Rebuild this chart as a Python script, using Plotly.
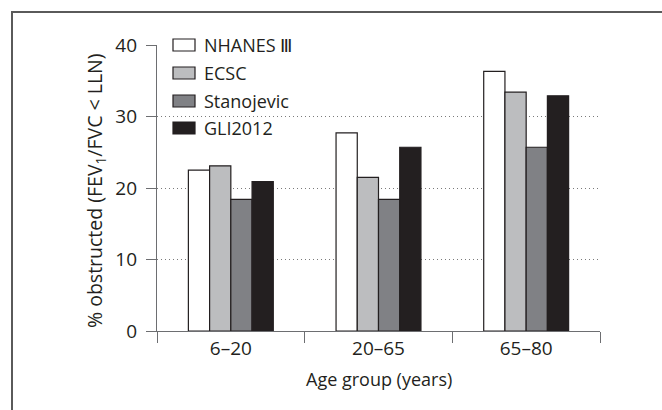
import plotly.graph_objects as go

categories = ["6–20", "20–65", "65–80"]
series_names = ["NHANES Ⅲ", "ECSC", "Stanojevic", "GLI2012"]
nhanes = [22.5, 27.7, 36.3]
ecsc = [23.1, 21.5, 33.4]
stanojevic = [18.4, 18.4, 25.7]
gli2012 = [20.9, 25.7, 32.9]
series_values = [nhanes, ecsc, stanojevic, gli2012]
colors = ["#ffffff", "#bcbdbf", "#808185", "#231f20"]
y_ticks = [0, 10, 20, 30, 40]

FONT = "Open Sans"
FS = 18
TXT = "#231f20"
AX = "#6d6e71"

W, H = 662, 410
L, R, T, B = 157, 62, 45, 79
PW, PH = W - L - R, H - T - B


def px_x(x):
    return (x - L) / PW


def px_y(y):
    return (H - B - y) / PH


fig = go.Figure()
for name, vals, col in zip(series_names, series_values, colors):
    fig.add_trace(go.Bar(
        x=categories, y=vals, name=name,
        marker=dict(color=col, line=dict(color="#231f20", width=1.2)),
        showlegend=False,
    ))

shapes = []
annotations = []

# outer frame
shapes.append(dict(type="rect", xref="paper", yref="paper",
                   x0=px_x(12), x1=px_x(700), y0=px_y(12), y1=px_y(440),
                   line=dict(color="#5a5a5a", width=2), fillcolor="rgba(0,0,0,0)",
                   layer="above"))

# legend background (hides gridlines)
shapes.append(dict(type="rect", xref="paper", yref="paper",
                   x0=px_x(166), x1=px_x(303), y0=px_y(34), y1=px_y(140),
                   line=dict(width=0), fillcolor="white", layer="between"))

row_y = [45, 73, 101, 128]
for name, col, ry in zip(series_names, colors, row_y):
    shapes.append(dict(type="rect", xref="paper", yref="paper",
                       x0=px_x(173), x1=px_x(195), y0=px_y(ry - 6), y1=px_y(ry + 6),
                       line=dict(color="#231f20", width=1.2), fillcolor=col,
                       layer="above"))
    annotations.append(dict(xref="paper", yref="paper", x=px_x(202), y=px_y(ry),
                            xanchor="left", yanchor="middle", showarrow=False,
                            text=name, font=dict(family=FONT, size=FS, color=TXT)))

annotations.append(dict(xref="paper", yref="paper", x=0.5, y=px_y(379),
                        xanchor="center", yanchor="middle", showarrow=False,
                        text="Age group (years)",
                        font=dict(family=FONT, size=FS, color=TXT)))
annotations.append(dict(xref="paper", yref="paper", x=px_x(96), y=px_y(191),
                        xanchor="center", yanchor="middle", showarrow=False,
                        textangle=-90,
                        text="% obstructed (FEV<sub>1</sub>/FVC < LLN)",
                        font=dict(family=FONT, size=19.5, color=TXT)))

fig.update_layout(
    width=W, height=H,
    margin=dict(l=L, r=R, t=T, b=B, autoexpand=False),
    paper_bgcolor="white", plot_bgcolor="white",
    barmode="group", bargap=0.425, bargroupgap=0,
    shapes=shapes, annotations=annotations,
    font=dict(family=FONT, size=FS, color=TXT),
)
fig.update_xaxes(
    type="category", tickson="boundaries", ticks="outside", ticklen=11,
    tickcolor=AX, tickwidth=1.3, showline=True, linecolor=AX, linewidth=1.3,
    showgrid=False, tickfont=dict(family=FONT, size=19, color=TXT),
    range=[-0.5, 2.5], fixedrange=True,
)
fig.update_yaxes(
    range=[0, 40], tickvals=y_ticks, ticks="outside", ticklen=10,
    tickcolor=AX, tickwidth=1.3, showline=True, linecolor=AX, linewidth=1.3,
    showgrid=True, gridcolor="#7a7a7a", griddash="1px,3px", gridwidth=1,
    zeroline=False, tickfont=dict(family=FONT, size=19, color=TXT),
    ticklabelstandoff=5,
)

fig.write_html(
    "out.html",
    config={"displayModeBar": False},
    post_script="document.body.style.margin='0';document.body.style.overflow='hidden';",
)
